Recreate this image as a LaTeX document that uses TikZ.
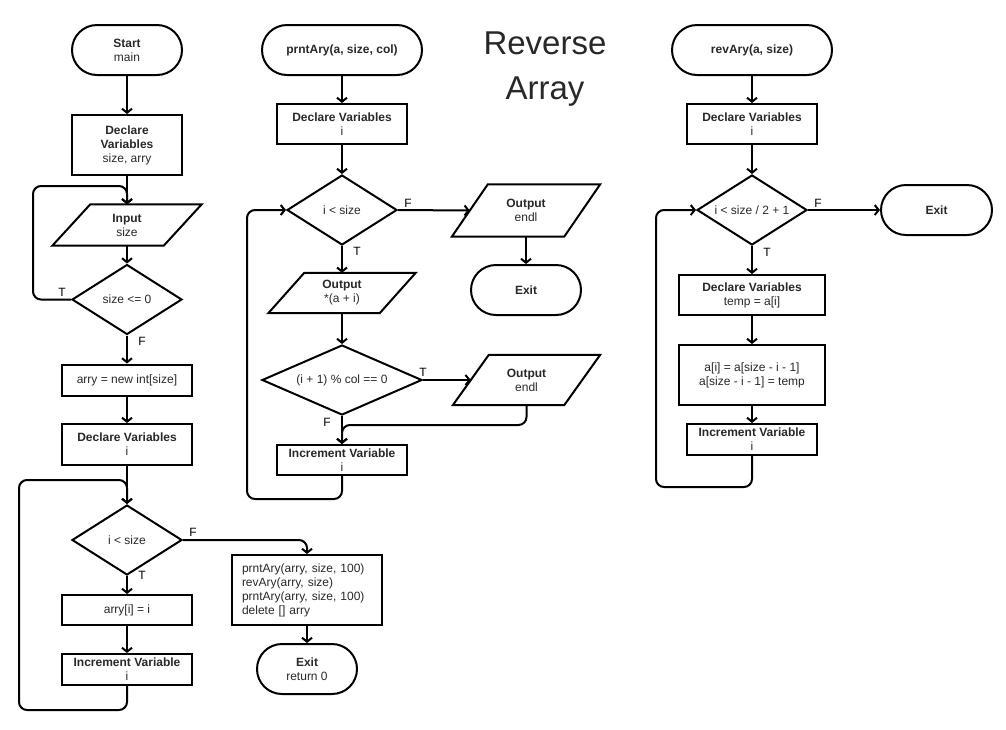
\documentclass[tikz,border=0pt]{standalone}
\usepackage{fontspec}
\setmainfont{Liberation Sans}
\usetikzlibrary{arrows.meta,shapes.geometric,calc}
\definecolor{txt}{RGB}{40,40,40}
\newcommand\fs{\fontsize{12}{14}\selectfont}
\newcommand\pio[2]{\draw[shp] (#1.south west) -- ([xshift=#2]#1.north west) -- (#1.north east) -- ([xshift=-#2]#1.south east) -- cycle;}
\tikzset{
  base/.style={draw=black, line width=2pt, inner sep=0pt, align=center, text=txt, font=\fs},
  term/.style={base, rectangle, rounded corners=25pt, minimum height=50pt},
  proc/.style={base, rectangle},
  dec/.style={base, diamond, minimum height=70pt},
  io/.style={inner sep=0pt, align=center, text=txt, font=\fs},
  shp/.style={draw=black, line width=2pt},
  arr/.style={draw=black, line width=2pt, -{Straight Barb[length=4pt,width=10pt]}, rounded corners=8pt},
  lab/.style={text=black, font=\fs, inner sep=0pt},
}
\begin{document}
\begin{tikzpicture}[x=1pt,y=-1pt]
\useasboundingbox (0,0) rectangle (1006,729);
% title
\node[font=\fontsize{33}{40}\selectfont, text=txt, anchor=base, inner sep=0pt] (t1) at (545,54) {Reverse};
\node[font=\fontsize{33}{40}\selectfont, text=txt, anchor=base, inner sep=0pt] (t2) at (545,99) {Array};
% left column
\node[term, minimum width=110pt] (start) at (127,50) {\textbf{Start}\\main};
\node[proc, minimum width=110pt, minimum height=60pt] (dv1) at (127,145) {\textbf{Declare}\\\textbf{Variables}\\size, arry};
\node[io, minimum width=149pt, minimum height=41pt] (in1) at (127,225) {\textbf{Input}\\size};
\pio{in1}{38pt}
\node[dec, minimum width=110pt, shape aspect=1.57] (d1) at (127,299.5) {size <= 0};
\node[proc, minimum width=130pt, minimum height=31pt] (new1) at (127,380) {arry = new int[size]};
\node[proc, minimum width=130pt, minimum height=41pt] (dv2) at (127,444.5) {\textbf{Declare Variables}\\i};
\node[dec, minimum width=110pt, shape aspect=1.57] (d2) at (127,540) {i < size};
\node[proc, minimum width=130pt, minimum height=30pt] (as1) at (127,610) {arry[i] = i};
\node[proc, minimum width=130pt, minimum height=31pt] (inc1) at (127,669.5) {\textbf{Increment Variable}\\i};
\node[proc, minimum width=150pt, minimum height=70pt, align=left, text width=130pt] (pr1) at (307,590) {prntAry(arry, size, 100)\\revAry(arry, size)\\prntAry(arry, size, 100)\\delete [] arry};
\node[term, minimum width=100pt] (exit1) at (307,669) {\textbf{Exit}\\return 0};
% middle column
\node[term, minimum width=160pt] (s2) at (342,50) {\textbf{prntAry(a, size, col)}};
\node[proc, minimum width=130pt, minimum height=40pt] (dv3) at (342,124) {\textbf{Declare Variables}\\i};
\node[dec, minimum width=110pt, shape aspect=1.57] (d3) at (342,210) {i < size};
\node[io, minimum width=148pt, minimum height=52pt] (o1) at (526,210.5) {\textbf{Output}\\endl};
\pio{o1}{36pt}
\node[term, minimum width=110pt] (exit2) at (526,290) {\textbf{Exit}};
\node[io, minimum width=147pt, minimum height=40pt] (o2) at (342,293) {\textbf{Output}\\*(a + i)};
\pio{o2}{36pt}
\node[dec, minimum width=160pt, shape aspect=2.29] (d4) at (342,380) {(i + 1) \% col == 0};
\node[io, minimum width=147pt, minimum height=50pt] (o3) at (526.5,380) {\textbf{Output}\\endl};
\pio{o3}{36pt}
\node[proc, minimum width=130pt, minimum height=30pt] (inc2) at (342,460) {\textbf{Increment Variable}\\i};
% right column
\node[term, minimum width=160pt] (s3) at (752,50) {\textbf{revAry(a, size)}};
\node[proc, minimum width=130pt, minimum height=40pt] (dv4) at (752,124) {\textbf{Declare Variables}\\i};
\node[dec, minimum width=110pt, shape aspect=1.57] (d5) at (752,210) {i < size / 2 + 1};
\node[term, minimum width=111pt] (exit3) at (936.5,210) {\textbf{Exit}};
\node[proc, minimum width=146pt, minimum height=40pt] (dv5) at (752,295) {\textbf{Declare Variables}\\temp = a[i]};
\node[proc, minimum width=146pt, minimum height=60pt] (sw1) at (752,375) {a[i] = a[size - i - 1]\\a[size - i - 1] = temp};
\node[proc, minimum width=130pt, minimum height=31pt] (inc3) at (752,439.5) {\textbf{Increment Variable}\\i};
% bend coordinates
\coordinate (c1) at (33,186);
\coordinate (c2a) at (19,710);
\coordinate (c2b) at (19,480);
\coordinate (c3) at (247,499);
\coordinate (c4) at (656,487);
\coordinate (c5) at (342,425);
% left connectors
\draw[arr] (start) -- (dv1);
\draw[arr] (dv1) -- (in1.north);
\draw[arr] (in1.south) -- (d1);
\draw[arr] (d1.west) -| (c1) -| (in1.north);
\draw[arr] (d1) -- (new1);
\draw[arr] (new1) -- (dv2);
\draw[arr] (dv2) -- (d2);
\draw[arr] (d2) -- (as1);
\draw[arr] (as1) -- (inc1);
\draw[arr] (inc1.south) |- (c2a) -- (c2b) -| (d2.north);
\draw[arr] (d2.east) -| (pr1.north);
\draw[arr] (pr1) -- (exit1);
% middle connectors
\draw[arr] (s2) -- (dv3);
\draw[arr] (dv3) -- (d3);
\draw[arr] (d3.east) -- ($(o1.west)+(18,0)$);
\draw[arr] (o1.south) -- (exit2);
\draw[arr] (d3) -- (o2.north);
\draw[arr] (o2.south) -- (d4);
\draw[arr] (d4.east) -- ($(o3.west)+(18,0)$);
\draw[arr] (d4) -- (inc2);
\draw[arr] (o3.south) |- (c5) -- (inc2.north);
\draw[arr] (inc2.south) |- (c3) |- (d3.west);
% right connectors
\draw[arr] (s3) -- (dv4);
\draw[arr] (dv4) -- (d5);
\draw[arr] (d5.east) -- (exit3);
\draw[arr] (d5) -- (dv5);
\draw[arr] (dv5) -- (sw1);
\draw[arr] (sw1) -- (inc3);
\draw[arr] (inc3.south) |- (c4) |- (d5.west);
% labels
\node[lab] (lT1) at (62,292) {T};
\node[lab] (lF1) at (142,341) {F};
\node[lab] (lF2) at (193,532) {F};
\node[lab] (lT2) at (142,575) {T};
\node[lab] (lF3) at (408,203) {F};
\node[lab] (lT3) at (357,251) {T};
\node[lab] (lT4) at (423,372) {T};
\node[lab] (lF4) at (327,422) {F};
\node[lab] (lF5) at (818,203) {F};
\node[lab] (lT5) at (767,252) {T};
\end{tikzpicture}
\end{document}
